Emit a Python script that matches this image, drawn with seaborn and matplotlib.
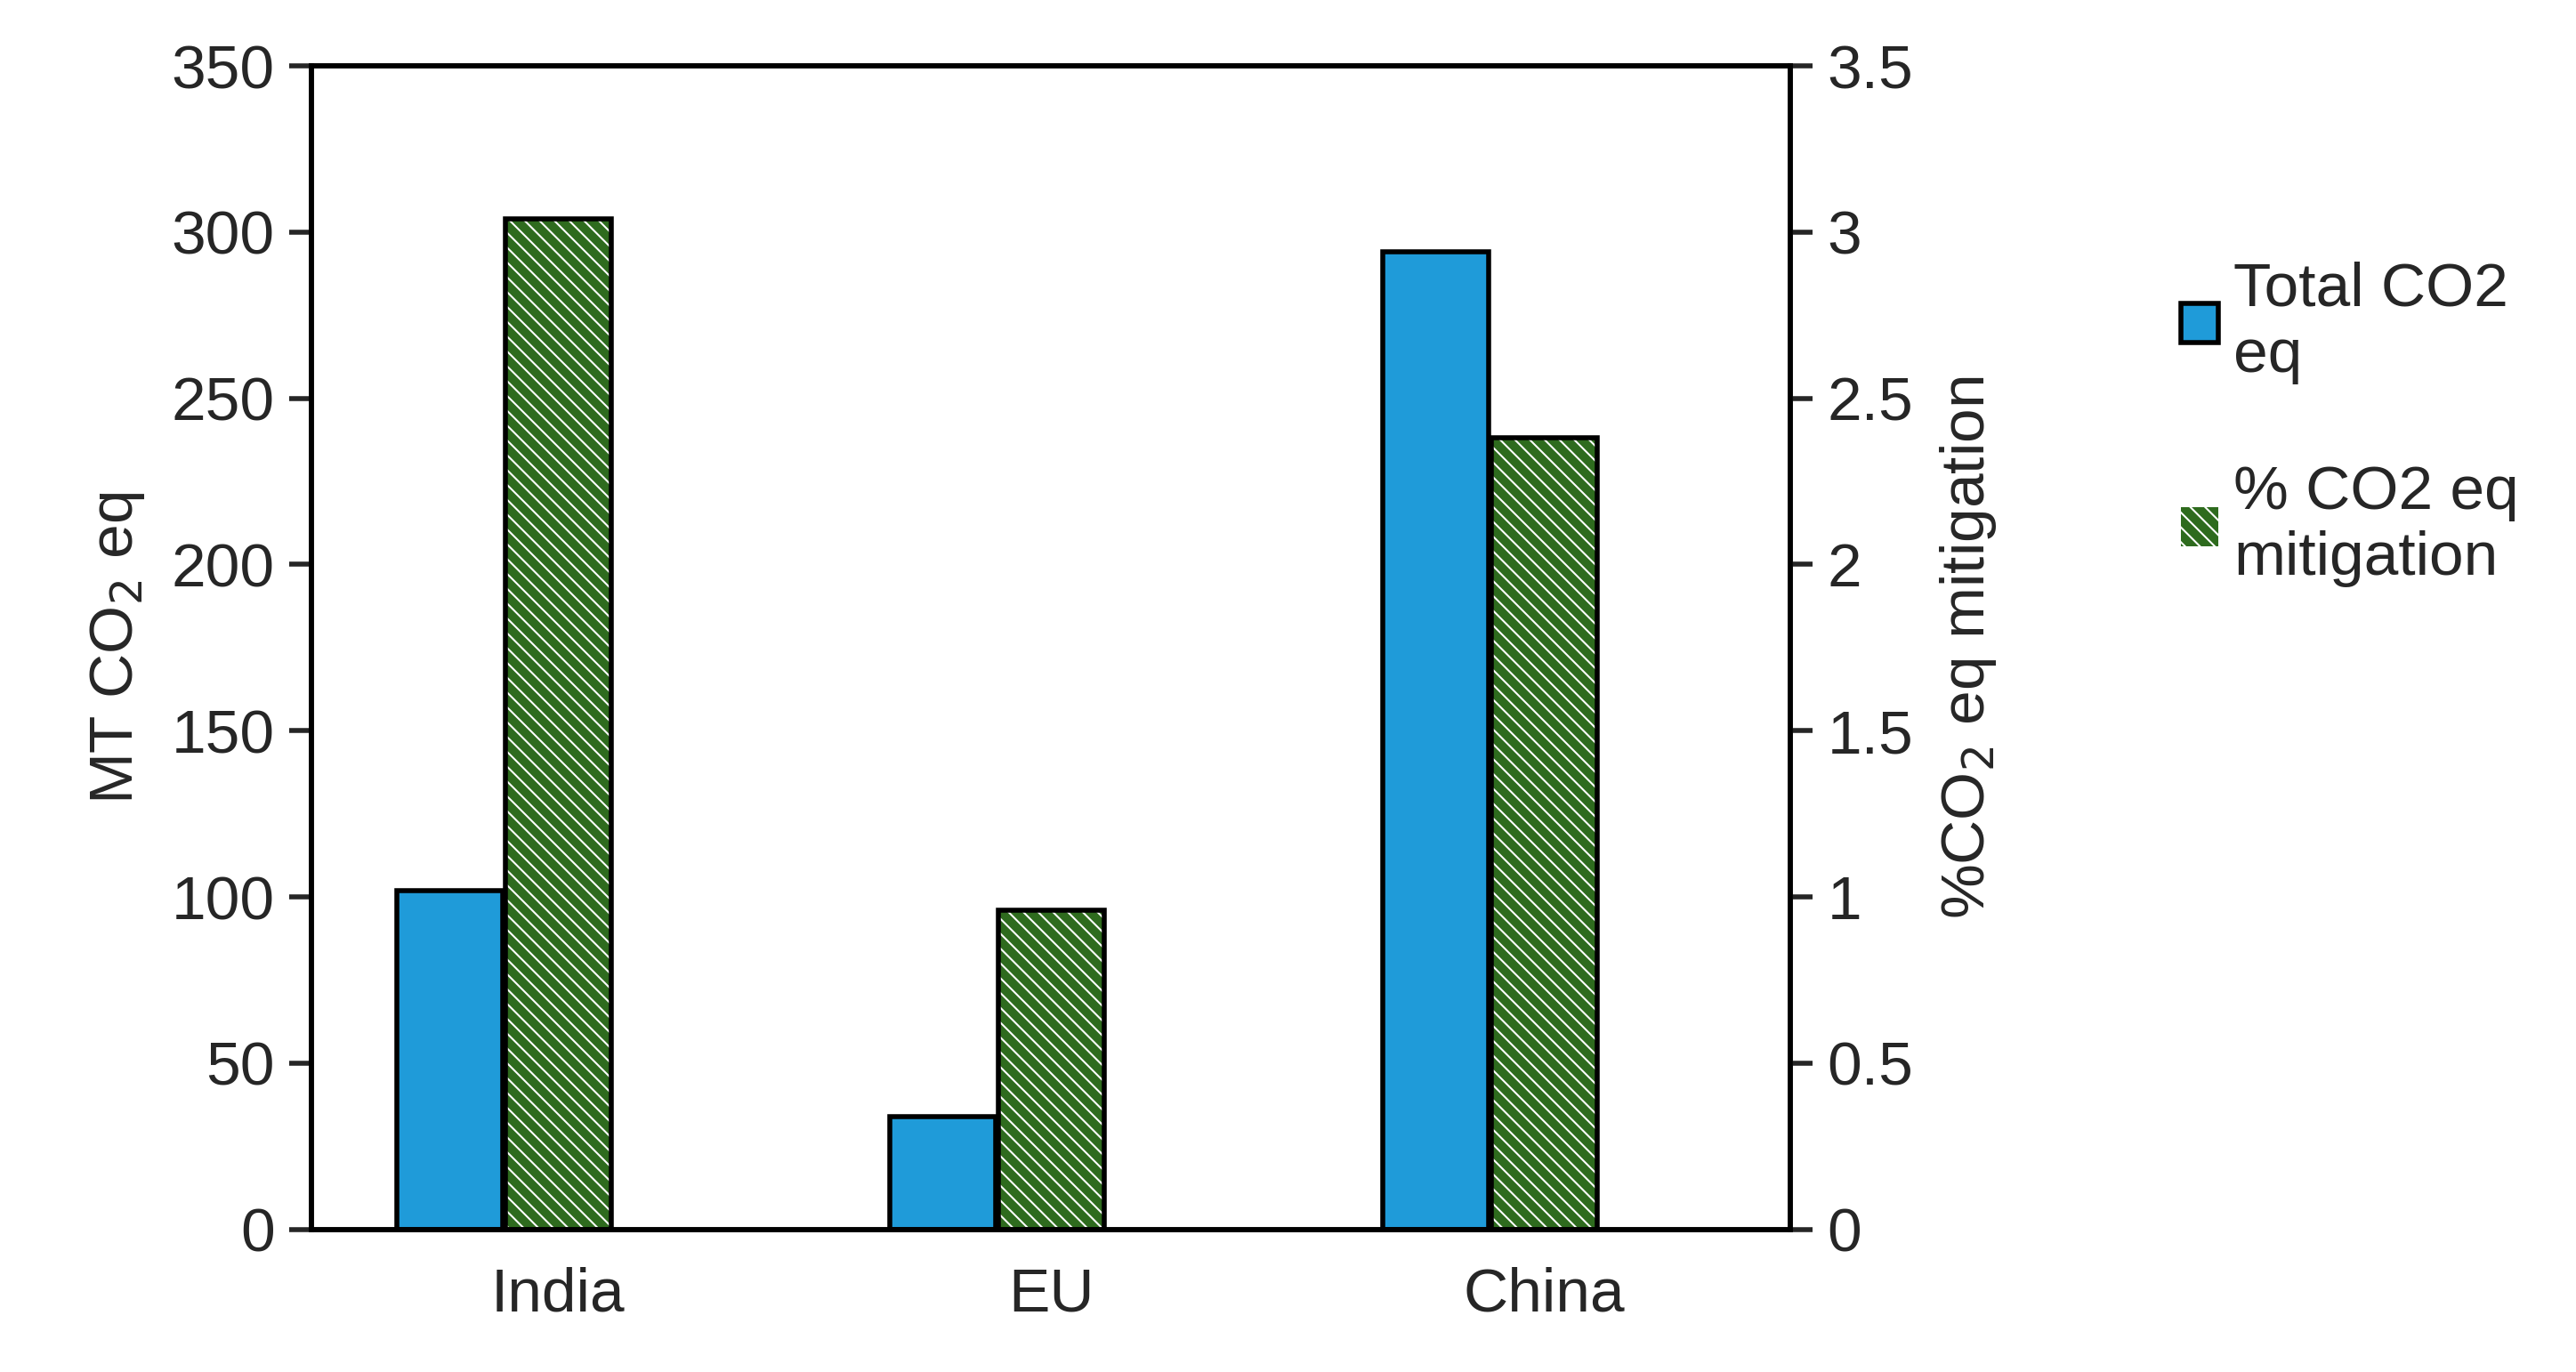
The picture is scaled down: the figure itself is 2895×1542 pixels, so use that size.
import numpy as np
import pandas as pd
import matplotlib as mpl
mpl.use("Agg")
from matplotlib import pyplot as plt
from matplotlib.patches import Patch
import seaborn as sb

regions = ["India", "EU", "China"]
total_co2 = [102, 34, 294]
pct_mitigation = [3.04, 0.96, 2.38]

sb.set_style("white")
plt.rcParams['font.family'] = ['Liberation Sans', 'DejaVu Sans']
plt.rcParams['hatch.linewidth'] = 7
fs = 50

fig = plt.figure(figsize=(28.95, 15.42), dpi=100)
ax1 = fig.add_axes([0.121, 0.104, 0.574, 0.848])
ax2 = ax1.twinx()

idx = np.arange(len(regions))
w = 0.215
blue = "#1f9bd9"
green = "#2e6b1e"

ax1.bar(idx - 0.22, total_co2, width=w, color=blue, edgecolor="black", linewidth=4)
ax2.bar(idx, pct_mitigation, width=w, color="white", edgecolor=green,
        hatch="\\\\", linewidth=0)
ax2.bar(idx, pct_mitigation, width=w, fill=False, edgecolor="black", linewidth=4)

ax1.set_xlim(-0.5, 2.5)
ax1.set_ylim(0, 350)
ax2.set_ylim(0, 3.5)
ax1.set_yticks(np.arange(0, 351, 50))
ax2.set_yticks(np.arange(0, 3.51, 0.5))
ax2.set_yticklabels(["0", "0.5", "1", "1.5", "2", "2.5", "3", "3.5"])
ax1.set_xticks(idx)
ax1.set_xticklabels(regions)

for ax in (ax1, ax2):
    for s in ax.spines.values():
        s.set_linewidth(4)
        s.set_color("black")
    ax.tick_params(axis="y", length=18, width=4, direction="out", labelsize=fs, pad=12)
    ax.tick_params(axis="x", length=0, labelsize=fs, pad=30)

ax1.set_ylabel("MT CO$_2$ eq", fontsize=fs, labelpad=20)
ax2.set_ylabel("%CO$_2$ eq mitigation", fontsize=fs, labelpad=20)

handles = [Patch(facecolor=blue, edgecolor="black", linewidth=4),
           Patch(facecolor="white", edgecolor=green, hatch="\\\\", linewidth=0)]
fig.legend(handles, ["Total CO2\neq", "% CO2 eq\nmitigation"], loc="upper left",
           bbox_to_anchor=(0.825, 0.85), frameon=False, fontsize=fs,
           handlelength=0.6, handleheight=0.6, handletextpad=0.25, labelspacing=1.3)

fig.savefig("out.png", dpi=100)
